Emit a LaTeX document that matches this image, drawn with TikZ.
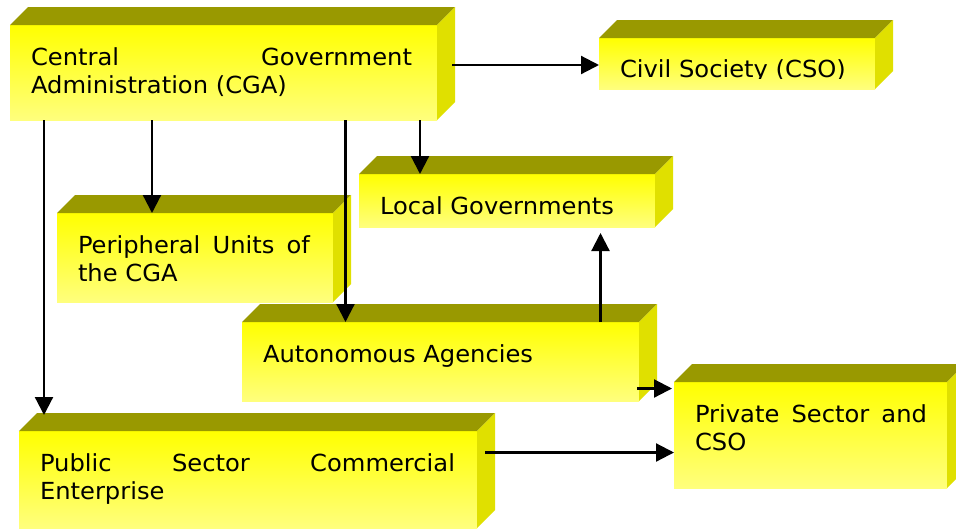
\documentclass[tikz,border=0pt]{standalone}
\usepackage{fontspec}
\setmainfont{DejaVu Sans}[FakeStretch=1.03]
\usetikzlibrary{arrows.meta,calc}
\definecolor{ytop}{RGB}{255,255,0}
\definecolor{ybot}{RGB}{255,255,125}
\definecolor{topc}{RGB}{153,153,0}
\definecolor{sidec}{RGB}{224,224,0}
\tikzset{
  face/.style={draw=none, shade, top color=ytop, bottom color=ybot, inner sep=0pt, outer sep=0pt, anchor=north west},
  lbl/.style={inner sep=0pt, outer sep=0pt, anchor=base west, font=\fontsize{23.5}{28}\selectfont},
  wlbl/.style={lbl, align=justify},
  arr/.style={line width=2.2pt, -{Triangle[length=18pt,width=18pt]}},
}
\newcommand\cuboid[5]{%
  \node[face, minimum width=#4pt, minimum height=#5pt] (#1) at (#2,#3) {};
  \fill[topc] (#1.north west) -- ++(18pt,18pt) -- ([shift={(18pt,18pt)}]#1.north east) -- (#1.north east) -- cycle;
  \fill[sidec] (#1.north east) -- ([shift={(18pt,18pt)}]#1.north east) -- ([shift={(18pt,18pt)}]#1.south east) -- (#1.south east) -- cycle;
}
\begin{document}
\begin{tikzpicture}[x=1pt,y=-1pt]
\clip (0,0) rectangle (956,528);
\fill[white] (0,0) rectangle (956,528);
% boxes
\cuboid{cga}{10}{25}{427}{95}
\cuboid{cso}{599}{38}{276}{51}
\cuboid{per}{57}{213}{276}{89}
\cuboid{loc}{359}{174}{296}{53}
\cuboid{aut}{242}{322}{397}{79}
\cuboid{pub}{19}{431}{458}{97}
\cuboid{prv}{674}{382}{273}{106}
% labels
\node[wlbl, text width=381pt] (cga-t) at ([shift={(21pt,-40pt)}]cga.north west) {\hyphenpenalty=10000 Central Government\linebreak Administration (CGA)};
\begin{scope}
  \clip ([shift={(0pt,-40.5pt)}]cso.north west) rectangle (cso.north east);
  \node[lbl] (cso-t) at ([shift={(21pt,-39pt)}]cso.north west) {Civil Society (CSO)};
\end{scope}
\node[wlbl, text width=232pt] (per-t) at ([shift={(21pt,-40pt)}]per.north west) {\hyphenpenalty=10000 Peripheral Units of\linebreak the CGA};
\node[lbl] (loc-t) at ([shift={(21pt,-40pt)}]loc.north west) {Local Governments};
\node[lbl] (aut-t) at ([shift={(21pt,-40pt)}]aut.north west) {Autonomous Agencies};
\node[wlbl, text width=415pt] (pub-t) at ([shift={(21pt,-40pt)}]pub.north west) {\hyphenpenalty=10000 Public Sector Commercial\linebreak Enterprise};
\node[wlbl, text width=232pt] (prv-t) at ([shift={(21pt,-40pt)}]prv.north west) {\hyphenpenalty=10000 Private Sector and\linebreak CSO};
% connectors
\coordinate (c1) at ([shift={(15pt,-40pt)}]cga.north east);
\draw[arr] (c1) -- (c1 -| cso.west);
\coordinate (x1) at (152,0);
\draw[arr] (cga.south -| x1) -- (per.north -| x1);
\coordinate (x2) at (420,0);
\draw[arr] (cga.south -| x2) -- (loc.north -| x2);
\coordinate (x3) at (345.5,0);
\draw[arr] (cga.south -| x3) -- (aut.north -| x3);
\coordinate (x4) at (44,0);
\draw[arr] (cga.south -| x4) -- ($(pub.north -| x4)+(0,-16)$);
\coordinate (x5) at (600.5,0);
\draw[arr] (aut.north -| x5) -- ($(loc.south -| x5)+(0,6)$);
\coordinate (y1) at (0,388.5);
\draw[arr] ($(y1 -| aut.east)+(-2,0)$) -- ($(y1 -| prv.west)+(-2,0)$);
\coordinate (y2) at (0,452.5);
\draw[arr] ($(y2 -| pub.east)+(8,0)$) -- (y2 -| prv.west);
\end{tikzpicture}
\end{document}
